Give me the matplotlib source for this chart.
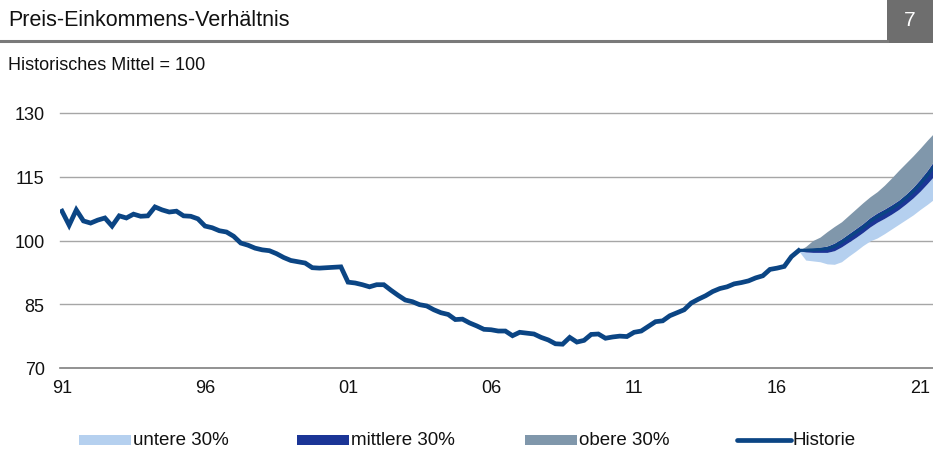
import numpy as np
import matplotlib
matplotlib.use("Agg")
import matplotlib.pyplot as plt
from matplotlib.patches import Rectangle
from matplotlib.lines import Line2D

plt.rcParams['font.family'] = ['Liberation Sans', 'DejaVu Sans']

# quarterly index, 0 = 1991Q1
historie = [106.9, 103.6, 107.2, 104.6, 104.1, 104.8, 105.3, 103.4, 105.8, 105.3,
            106.2, 105.7, 105.8, 107.9, 107.2, 106.7, 106.9, 105.8, 105.7, 105.1,
            103.4, 103.0, 102.3, 102.0, 101.0, 99.4, 98.9, 98.2, 97.8, 97.6,
            96.9, 96.0, 95.3, 95.0, 94.7, 93.6, 93.5, 93.6, 93.7, 93.8,
            90.2, 90.0, 89.6, 89.1, 89.6, 89.6, 88.3, 87.1, 86.0, 85.6,
            84.9, 84.6, 83.7, 83.0, 82.6, 81.4, 81.5, 80.6, 79.9, 79.1,
            79.0, 78.7, 78.7, 77.6, 78.4, 78.2, 78.0, 77.2, 76.6, 75.7,
            75.6, 77.2, 76.1, 76.5, 77.9, 78.0, 77.0, 77.3, 77.5, 77.4,
            78.4, 78.7, 79.8, 80.9, 81.1, 82.3, 83.0, 83.7, 85.3, 86.2,
            87.0, 88.0, 88.7, 89.1, 89.8, 90.1, 90.5, 91.2, 91.7, 93.2,
            93.5, 93.9, 96.2, 97.6]

# forecast from 2016Q4 (index 103) on
untere_lo = [97.6, 95.4, 95.2, 95.0, 94.5, 94.4, 95.0, 96.3, 97.5, 98.8,
             99.9, 100.6, 101.6, 102.7, 103.8, 104.9, 106.0, 107.3, 108.5, 109.8]
mittlere_lo = [97.6, 97.3, 97.2, 97.2, 97.2, 97.6, 98.5, 99.6, 100.7, 101.9,
               103.2, 104.3, 105.2, 106.2, 107.3, 108.6, 110.0, 111.6, 113.4, 115.3]
mittlere_hi = [97.8, 98.0, 98.2, 98.4, 98.7, 99.4, 100.4, 101.6, 102.8, 104.0,
               105.4, 106.5, 107.4, 108.4, 109.5, 110.9, 112.5, 114.4, 116.5, 118.9]
obere_hi = [97.6, 98.6, 100.0, 100.8, 102.1, 103.3, 104.4, 105.9, 107.4, 108.9,
            110.3, 111.5, 113.0, 114.7, 116.5, 118.2, 119.9, 121.7, 123.6, 125.4]
median = [97.7, 97.7, 97.8, 97.9, 98.1, 98.6, 99.6, 100.8, 101.9, 103.1,
          104.5, 105.6, 106.5, 107.5, 108.6, 110.0, 111.5, 113.3, 115.3, 117.6]

tick_pos = [0, 20, 40, 60, 80, 100, 120]
tick_labels = ['91', '96', '01', '06', '11', '16', '21']
y_ticks = [70, 85, 100, 115, 130]

c_light = '#b5d0ef'
c_mid = '#1b3596'
c_gray = '#8097ab'
c_navy = '#0b4584'
c_text = '#111111'

W, H = 933, 452
fig = plt.figure(figsize=(W / 100, H / 100), dpi=100)

def fx(px):
    return px / W

def fy(py):
    return 1 - py / H

ax = fig.add_axes([fx(60), fy(369), fx(933) - fx(60), fy(114) - fy(369)])

x_hist = np.arange(len(historie))
x_fc = np.arange(103, 103 + len(median))

ax.fill_between(x_fc, untere_lo, mittlere_lo, color=c_light, lw=0, zorder=2)
ax.fill_between(x_fc, mittlere_lo, mittlere_hi, color=c_mid, lw=0, zorder=2)
ax.fill_between(x_fc, mittlere_hi, obere_hi, color=c_gray, lw=0, zorder=2)
ax.plot(x_fc, median, color=c_navy, lw=2.2, zorder=3, solid_capstyle='butt')
ax.plot(x_hist, historie, color=c_navy, lw=3.4, zorder=4, solid_joinstyle='miter')

ax.set_xlim(-0.28, 121.8)
ax.set_ylim(70, 130)
ax.set_yticks(y_ticks)
ax.set_xticks(tick_pos)
ax.set_xticklabels(tick_labels)
ax.tick_params(axis='both', length=0, labelsize=13, labelcolor=c_text)
ax.tick_params(axis='y', pad=11)
ax.tick_params(axis='x', pad=8)
for s in ax.spines.values():
    s.set_visible(False)
for v in y_ticks[1:]:
    ax.axhline(v, color='#a6a6a6', lw=1.0, zorder=1, clip_on=False)
ax.axhline(70, color='#7f7f7f', lw=1.2, zorder=1, clip_on=False)

# header
fig.add_artist(Line2D([0, fx(887)], [fy(42), fy(42)], color='#7a7a7a', lw=2.2))
fig.add_artist(Rectangle((fx(887), fy(44)), fx(933) - fx(887), fy(0) - fy(44),
                         color='#6e6e6e', lw=0))
fig.text(fx(910), fy(21), '7', color='white', fontsize=15, ha='center', va='center')
fig.text(fx(8), fy(21), 'Preis-Einkommens-Verhältnis', fontsize=15.5, color=c_text,
         ha='left', va='center')
fig.text(fx(8), fy(66), 'Historisches Mittel = 100', fontsize=13, color=c_text,
         ha='left', va='center')

# legend
ly = 441
for x0, col, lab in [(79, c_light, 'untere 30%'), (297, c_mid, 'mittlere 30%'),
                     (525, c_gray, 'obere 30%')]:
    fig.add_artist(Rectangle((fx(x0), fy(ly + 5)), fx(52), 10 / H, color=col, lw=0))
    fig.text(fx(x0 + 54), fy(ly), lab, fontsize=13.5, color=c_text, ha='left', va='center')
fig.add_artist(Line2D([fx(737), fx(791)], [fy(ly), fy(ly)], color=c_navy, lw=3.4,
                      solid_capstyle='round'))
fig.text(fx(792), fy(ly), 'Historie', fontsize=13.5, color=c_text, ha='left', va='center')

fig.savefig('out.png', dpi=100)
